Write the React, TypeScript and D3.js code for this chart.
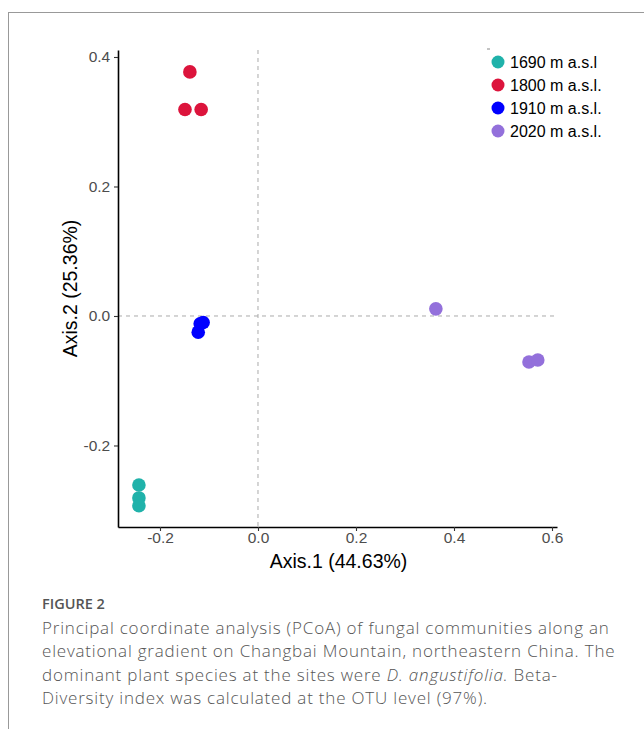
//@ts-nocheck
import React, { useRef, useEffect } from "react";
import * as d3 from "d3";

const groups = ["1690 m a.s.l", "1800 m a.s.l.", "1910 m a.s.l.", "2020 m a.s.l."];
const groupColors = ["#20B2AA", "#DC143C", "#0000FF", "#9370DB"];

// PCoA coordinates
const axis1 = [-0.243, -0.243, -0.243, -0.139, -0.149, -0.116, -0.112, -0.118, -0.122, 0.363, 0.553, 0.571];
const axis2 = [-0.261, -0.281, -0.293, 0.377, 0.319, 0.319, -0.01, -0.012, -0.025, 0.011, -0.071, -0.068];
const sampleGroup = [0, 0, 0, 1, 1, 1, 2, 2, 2, 3, 3, 3];

const xTicks = [-0.2, 0.0, 0.2, 0.4, 0.6];
const yTicks = [-0.2, 0.0, 0.2, 0.4];

const captionTitle = "FIGURE 2";
const captionLines = [
  "Principal coordinate analysis (PCoA) of fungal communities along an",
  "elevational gradient on Changbai Mountain, northeastern China. The",
  "dominant plant species at the sites were |D. angustifolia.| Beta-",
  "Diversity index was calculated at the OTU level (97%).",
];

export default function App() {
  const svgRef = useRef(null);

  useEffect(() => {
    const svg = d3.select(svgRef.current);
    svg.selectAll("*").remove();

    // figure frame
    svg.append("line").attr("x1", 8).attr("x2", 644).attr("y1", 12.5).attr("y2", 12.5)
      .attr("stroke", "#999").attr("stroke-width", 1);
    svg.append("line").attr("x1", 8.5).attr("x2", 8.5).attr("y1", 12).attr("y2", 729)
      .attr("stroke", "#999").attr("stroke-width", 1);

    const left = 118, right = 557, top = 50, bottom = 527;
    const x = d3.scaleLinear().domain([-0.2857, 0.6102]).range([left, right]);
    const y = d3.scaleLinear().domain([-0.3259, 0.4108]).range([bottom, top]);

    const font = "Liberation Sans, Arial, sans-serif";
    const fmt = (d) => d3.format(".1f")(d).replace("−", "-");

    // zero lines
    svg.append("line").attr("x1", x(0)).attr("x2", x(0)).attr("y1", top).attr("y2", bottom)
      .attr("stroke", "#aaa").attr("stroke-dasharray", "4,4");
    svg.append("line").attr("x1", left).attr("x2", right).attr("y1", y(0)).attr("y2", y(0))
      .attr("stroke", "#aaa").attr("stroke-dasharray", "4,4");

    // axes
    const xAxis = svg.append("g").attr("transform", `translate(0,${bottom})`)
      .call(d3.axisBottom(x).tickValues(xTicks).tickFormat(fmt).tickSize(4).tickSizeOuter(0));
    const yAxis = svg.append("g").attr("transform", `translate(${left},0)`)
      .call(d3.axisLeft(y).tickValues(yTicks).tickFormat(fmt).tickSize(4).tickSizeOuter(0));
    [xAxis, yAxis].forEach((a) => {
      a.attr("font-size", null);
      a.select(".domain").attr("stroke", "#000").attr("stroke-width", 1.6);
      a.selectAll(".tick line").attr("stroke", "#333").attr("stroke-width", 1.1);
      a.selectAll(".tick text").attr("fill", "#4d4d4d").style("font-size", "15.5px").style("font-family", font);
    });
    xAxis.selectAll(".tick text").attr("y", 5).attr("dy", "0.74em");
    yAxis.selectAll(".tick text").attr("dx", "-0.05em");

    // axis titles
    svg.append("text").attr("x", (left + right) / 2 + 1).attr("y", 568).attr("text-anchor", "middle")
      .style("font-family", font).style("font-size", "19.5px").attr("fill", "#000").text("Axis.1 (44.63%)");
    svg.append("text").attr("transform", `translate(77,${(top + bottom) / 2}) rotate(-90)`)
      .attr("text-anchor", "middle").style("font-family", font).style("font-size", "19.5px")
      .attr("fill", "#000").text("Axis.2 (25.36%)");

    // points
    svg.append("g").selectAll("circle").data(axis1).join("circle")
      .attr("cx", (d) => x(d)).attr("cy", (d, i) => y(axis2[i])).attr("r", 6.8)
      .attr("fill", (d, i) => groupColors[sampleGroup[i]]);

    // legend
    const lg = svg.append("g").attr("transform", "translate(498,62)");
    lg.append("line").attr("x1", -11).attr("x2", -8).attr("y1", -13).attr("y2", -13).attr("stroke", "#888");
    const rows = lg.selectAll("g").data(groups).join("g").attr("transform", (d, i) => `translate(0,${i * 23})`);
    rows.append("circle").attr("r", 6.5).attr("fill", (d, i) => groupColors[i]);
    rows.append("text").attr("x", 12).attr("dy", "0.36em").style("font-family", font).style("font-size", "16px")
      .attr("fill", "#000").text((d) => d);

    // caption
    const capFont = "Open Sans, Lato, sans-serif";
    svg.append("text").attr("x", 42).attr("y", 609).style("font-family", capFont).style("font-size", "14.5px")
      .style("font-weight", 600).attr("fill", "#555").text(captionTitle);
    captionLines.forEach((line, i) => {
      const t = svg.append("text").attr("x", 42).attr("y", 634 + i * 23.3).style("font-family", capFont)
        .style("font-size", "17px").style("font-weight", 300).style("letter-spacing", "0.8px")
        .attr("fill", "#555");
      line.split("|").forEach((part, j) => {
        t.append("tspan").style("font-style", j % 2 === 1 ? "italic" : "normal").text(part);
      });
    });
  }, []);

  return (
    <svg ref={svgRef} width={644} height={729}
      style={{ position: "absolute", left: 0, top: 0, background: "#fff" }} />
  );
}
